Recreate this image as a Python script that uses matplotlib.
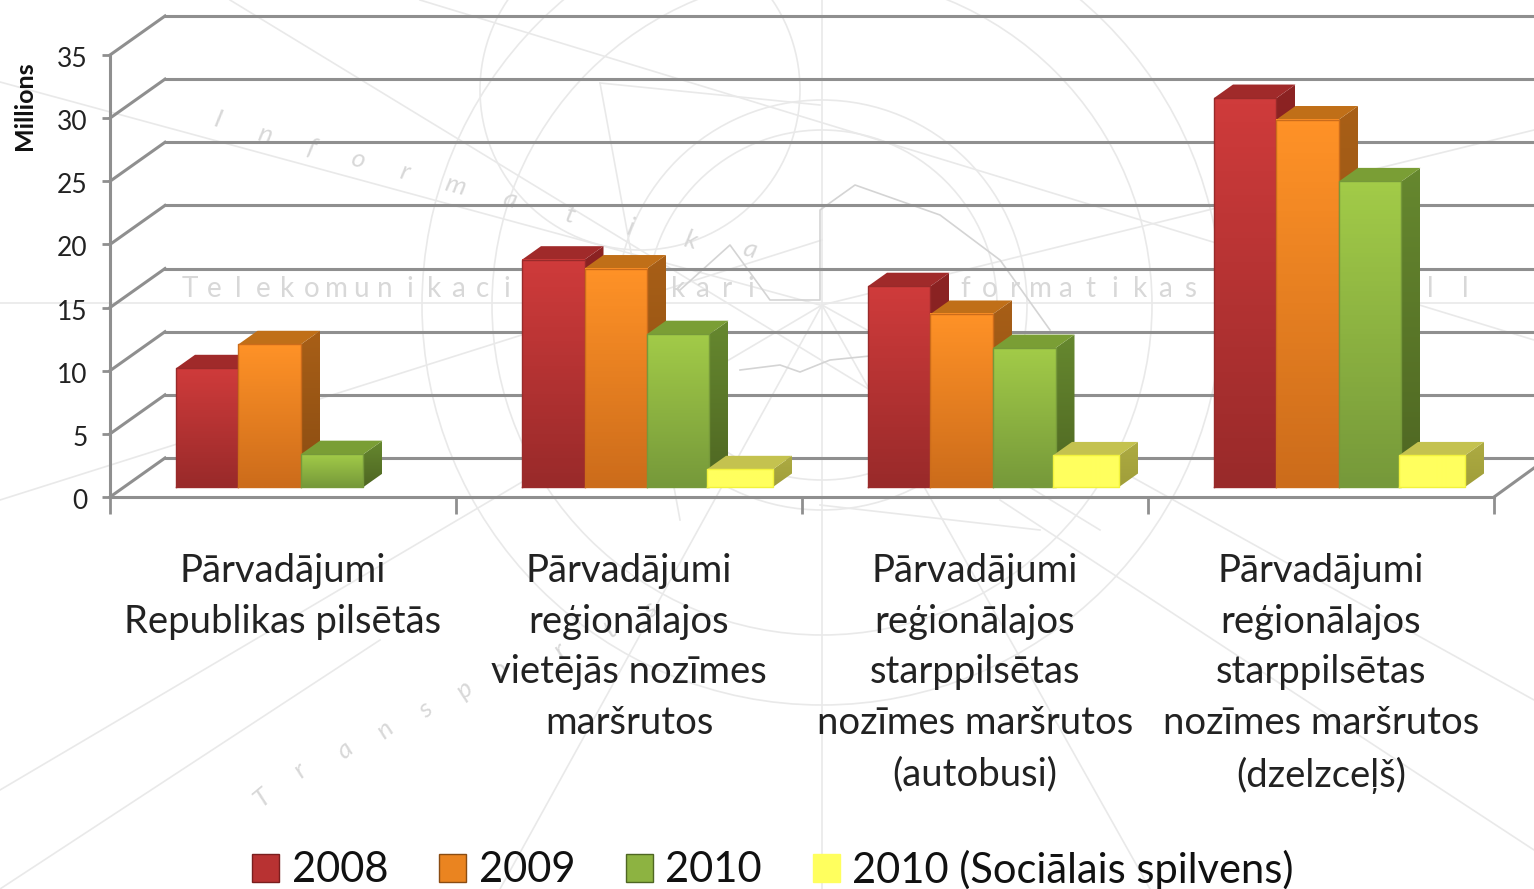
import numpy as np
import matplotlib
matplotlib.use("Agg")
import matplotlib.pyplot as plt
from matplotlib.colors import LinearSegmentedColormap
from matplotlib.patches import Patch, Polygon, Circle
from matplotlib.transforms import ScaledTranslation

plt.rcParams['font.family'] = ['Lato', 'DejaVu Sans']

categories = ["Pārvadājumi\nRepublikas pilsētās",
              "Pārvadājumi\nreģionālajos\nvietējās nozīmes\nmaršrutos",
              "Pārvadājumi\nreģionālajos\nstarppilsētas\nnozīmes maršrutos\n(autobusi)",
              "Pārvadājumi\nreģionālajos\nstarppilsētas\nnozīmes maršrutos\n(dzelzceļš)"]
series_names = ["2008", "2009", "2010", "2010 (Sociālais spilvens)"]
v2008 = [9.4, 18.0, 15.9, 30.8]
v2009 = [11.3, 17.3, 13.7, 29.1]
v2010 = [2.6, 12.1, 11.0, 24.2]
v2010s = [0, 1.4, 2.5, 2.5]
yticks = [0, 5, 10, 15, 20, 25, 30, 35]

W, H = 1534, 889
# one pixel in data units of the main axes
PX = 4 / 1384.0
PY = 35 / 442.0
GREY = "#8f8f8f"

# colours: front top, front bottom, side top, side bottom, top face
styles = [("#cf3b3b", "#992a2a", "#8c2323", "#7a1e1e", "#a02a2a"),
          ("#ff9227", "#cc6c1b", "#a85f17", "#8a4c12", "#c06f18"),
          ("#a2cb48", "#76993a", "#66882f", "#4e6622", "#7a9e35"),
          ("#ffff5e", "#ffff5e", "#adab42", "#a09e3a", "#c4c24f")]
legend_colors = ["#b83232", "#ea8420", "#8db341", "#ffff5e"]

fig = plt.figure(figsize=(W / 100, H / 100), dpi=100)

# faint watermark behind the chart
bg = fig.add_axes([0, 0, 1, 1])
bg.set_xlim(0, W)
bg.set_ylim(H, 0)
bg.axis("off")
wm = "#e9e9e9"
for r in [175, 205, 330, 400]:
    bg.add_patch(Circle((822, 305), r, fill=False, ec=wm, lw=1.2))
bg.add_patch(Circle((640, 90), 160, fill=False, ec=wm, lw=1.2))
for seg in [((0, 82), (820, 305)), ((230, 0), (1100, 530)), ((420, 0), (1534, 340)),
            ((0, 303), (1534, 303)), ((822, 0), (822, 889)), ((0, 500), (822, 240)),
            ((0, 790), (822, 305)), ((1534, 130), (822, 305)), ((1534, 700), (822, 305)),
            ((500, 889), (822, 305)), ((1150, 889), (822, 305)), ((600, 83), (820, 105)),
            ((600, 83), (680, 520)), ((820, 505), (1040, 530)), ((0, 889), (380, 640)),
            ((1534, 850), (1000, 500))]:
    bg.plot([seg[0][0], seg[1][0]], [seg[0][1], seg[1][1]], color=wm, lw=1.2)
# rough map outline in the watermark
bg.plot([680, 730, 770, 820, 820, 855, 940, 1000, 1050],
        [290, 245, 300, 300, 210, 185, 215, 260, 330], color="#d4d4d4", lw=1.2)
bg.plot([740, 780, 800, 830, 880], [370, 365, 372, 360, 355], color="#d4d4d4", lw=1.2)
for k, ch in enumerate("Telekomunikacijas sakari"):
    bg.text(190 + k * 24.4, 297, ch, color="#d8d8d8", fontsize=20, ha="center", va="baseline")
for k, ch in enumerate("Informatikas"):
    bg.text(915 + k * 25, 297, ch, color="#d8d8d8", fontsize=20, ha="center", va="baseline")
for x in [1430, 1465]:
    bg.text(x, 297, "l", color="#d8d8d8", fontsize=20, ha="center", va="baseline")
for ch, x, y, rot in zip("Informatika", [218, 265, 312, 358, 405, 455, 510, 570, 630, 690, 750],
                         [120, 135, 148, 160, 172, 185, 200, 215, 228, 240, 250],
                         [-15] * 11):
    bg.text(x, y, ch, color="#d8d8d8", fontsize=19, style="italic", rotation=rot, ha="center", va="center")
for ch, x, y in zip("Transports", [262, 300, 345, 385, 425, 465, 500, 560, 610, 650],
                    [798, 770, 750, 730, 710, 690, 670, 650, 630, 610]):
    bg.text(x, y, ch, color="#d8d8d8", fontsize=19, style="italic", rotation=40, ha="center", va="center")

ax = fig.add_axes([110 / W, (H - 497) / H, 1384 / W, 442 / H])
ax.patch.set_alpha(0)

wall_dx = 55 * PX
wall_dy = 39 * PY
for v in yticks:
    ax.plot([0, wall_dx], [v, v + wall_dy], color=GREY, lw=2.2, clip_on=False, zorder=1)
    ax.plot([wall_dx, 4.2], [v + wall_dy, v + wall_dy], color=GREY, lw=2.2, clip_on=False, zorder=1)
ax.plot([4, 4 + 40 * PX], [0, 29 * PY], color=GREY, lw=2.2, clip_on=False, zorder=1)

bar_w = 62.5 * PX
bar_off = 66 * PX
base = 10 * PY
dep_x = 19 * PX
dep_y = 13.5 * PY


def grad_face(xmin, xmax, ymin, ymax, c_top, c_bot, z, clip=None):
    cm = LinearSegmentedColormap.from_list("f", [c_top, c_bot])
    im = ax.imshow(np.linspace(0, 1, 64).reshape(-1, 1), cmap=cm, aspect="auto",
                   extent=[xmin, xmax, ymin, ymax], origin="upper", zorder=z)
    if clip is not None:
        ax.add_patch(clip)
        im.set_clip_path(clip)
    else:
        im.set_clip_on(False)
    return im


for s, vals in enumerate([v2008, v2009, v2010, v2010s]):
    c_top, c_bot, s_top, s_bot, c_roof = styles[s]
    for i, v in enumerate(vals):
        if v == 0:
            continue
        x0 = i + bar_off + s * bar_w
        w = bar_w
        if s == 3:
            x0 -= 2.5 * PX
            w = 66 * PX
        x1 = x0 + w
        y0 = base
        y1 = base + v
        z = 3 + s * 0.1
        # side face first, the next bar covers it
        side = Polygon([(x1, y0), (x1 + dep_x, y0 + dep_y), (x1 + dep_x, y1 + dep_y), (x1, y1)],
                       closed=True, fc="none", ec="none", zorder=z, clip_on=False,
                       transform=ax.transData)
        grad_face(x1, x1 + dep_x, y0, y1 + dep_y, s_top, s_bot, z, clip=side)
        ax.add_patch(Polygon([(x0, y1), (x0 + dep_x, y1 + dep_y), (x1 + dep_x, y1 + dep_y), (x1, y1)],
                             closed=True, fc=c_roof, ec="none", zorder=z, clip_on=False))
        grad_face(x0, x1, y0, y1, c_top, c_bot, z + 0.01)
        edge = "#f2f23c" if s == 3 else c_bot
        ax.plot([x0, x1, x1, x0, x0], [y0, y0, y1, y1, y0], color=edge, lw=1.0,
                zorder=z + 0.02, clip_on=False)

ax.set_xlim(0, 4)
ax.set_ylim(0, 35)
for sp in ["top", "right"]:
    ax.spines[sp].set_visible(False)
for sp in ["left", "bottom"]:
    ax.spines[sp].set_color(GREY)
    ax.spines[sp].set_linewidth(2.2)
    ax.spines[sp].set_zorder(2)
ax.set_yticks(yticks)
ax.set_xticks([0, 1, 2, 3, 4])
ax.set_xticklabels([])
ax.tick_params(axis="y", length=6, width=2, color=GREY, labelsize=19, pad=10, labelcolor="#222222")
ax.tick_params(axis="x", length=12, width=2, color=GREY)
# tick labels sit a little below their ticks
for label in ax.get_yticklabels():
    label.set_transform(label.get_transform() + ScaledTranslation(0, -2 / 100, fig.dpi_scale_trans))
ax.set_ylabel("Millions", fontsize=18, fontweight="bold", color="#111111", labelpad=0)
ax.yaxis.set_label_coords(-74 / 1384, 0.885)

for i, name in enumerate(categories):
    ax.text(i + 0.5, -4.4, name, ha="center", va="top", fontsize=27.5, color="#222222",
            linespacing=1.515, clip_on=False)

handles = [Patch(facecolor=c, edgecolor=st[3] if k < 3 else st[0], lw=1)
           for k, (c, st) in enumerate(zip(legend_colors, styles))]
fig.legend(handles, series_names, loc="lower center", bbox_to_anchor=(773 / W, -38 / H), ncol=4,
           frameon=False, fontsize=30, handlelength=0.65, handleheight=0.65, handletextpad=0.3,
           columnspacing=1.22, labelcolor="#111111")

fig.savefig("out.png", dpi=100)
